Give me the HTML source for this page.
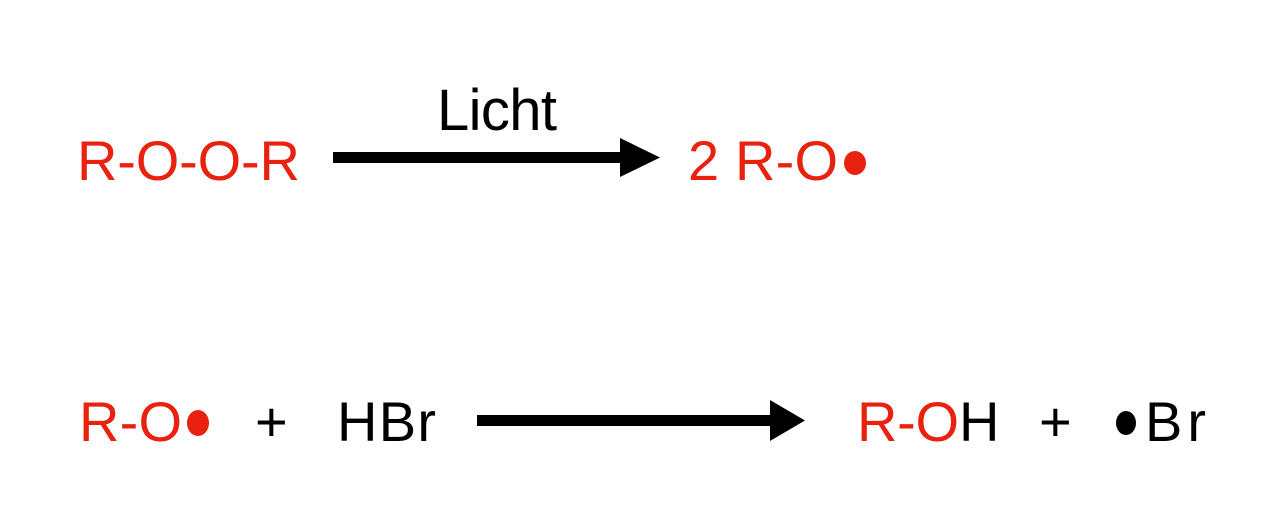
<!DOCTYPE html>
<html><head><meta charset="utf-8"><style>
html,body{margin:0;padding:0;background:#fff;}
svg{display:block}
text{font-family:"Liberation Sans",sans-serif;font-size:56px}
.r{fill:#e8220e}
</style></head><body>
<svg width="1280" height="529" viewBox="0 0 1280 529">
<text class="r" x="77" y="180" textLength="223">R-O-O-R</text>
<text x="437" y="130" textLength="120" style="font-size:58px">Licht</text>
<rect x="333" y="152" width="290" height="11" fill="#000"/>
<polygon points="620,138 660,157.5 620,177" fill="#000"/>
<text class="r" x="688" y="180" textLength="150">2 R-O</text>
<ellipse cx="855" cy="163" rx="11" ry="12" fill="#e8220e"/>

<text class="r" x="79" y="441" textLength="103">R-O</text>
<ellipse cx="198" cy="423" rx="11" ry="13" fill="#e8220e"/>
<text x="255" y="441">+</text>
<text x="337" y="441" textLength="99">HBr</text>
<rect x="477" y="415" width="296" height="11" fill="#000"/>
<polygon points="770,400 805,420.5 770,441" fill="#000"/>
<text class="r" x="857" y="441" textLength="102">R-O</text>
<text x="959" y="441" textLength="40">H</text>
<text x="1039" y="441">+</text>
<ellipse cx="1126" cy="423" rx="10" ry="12" fill="#000"/>
<text x="1145" y="441" textLength="61">Br</text>
</svg>
</body></html>
